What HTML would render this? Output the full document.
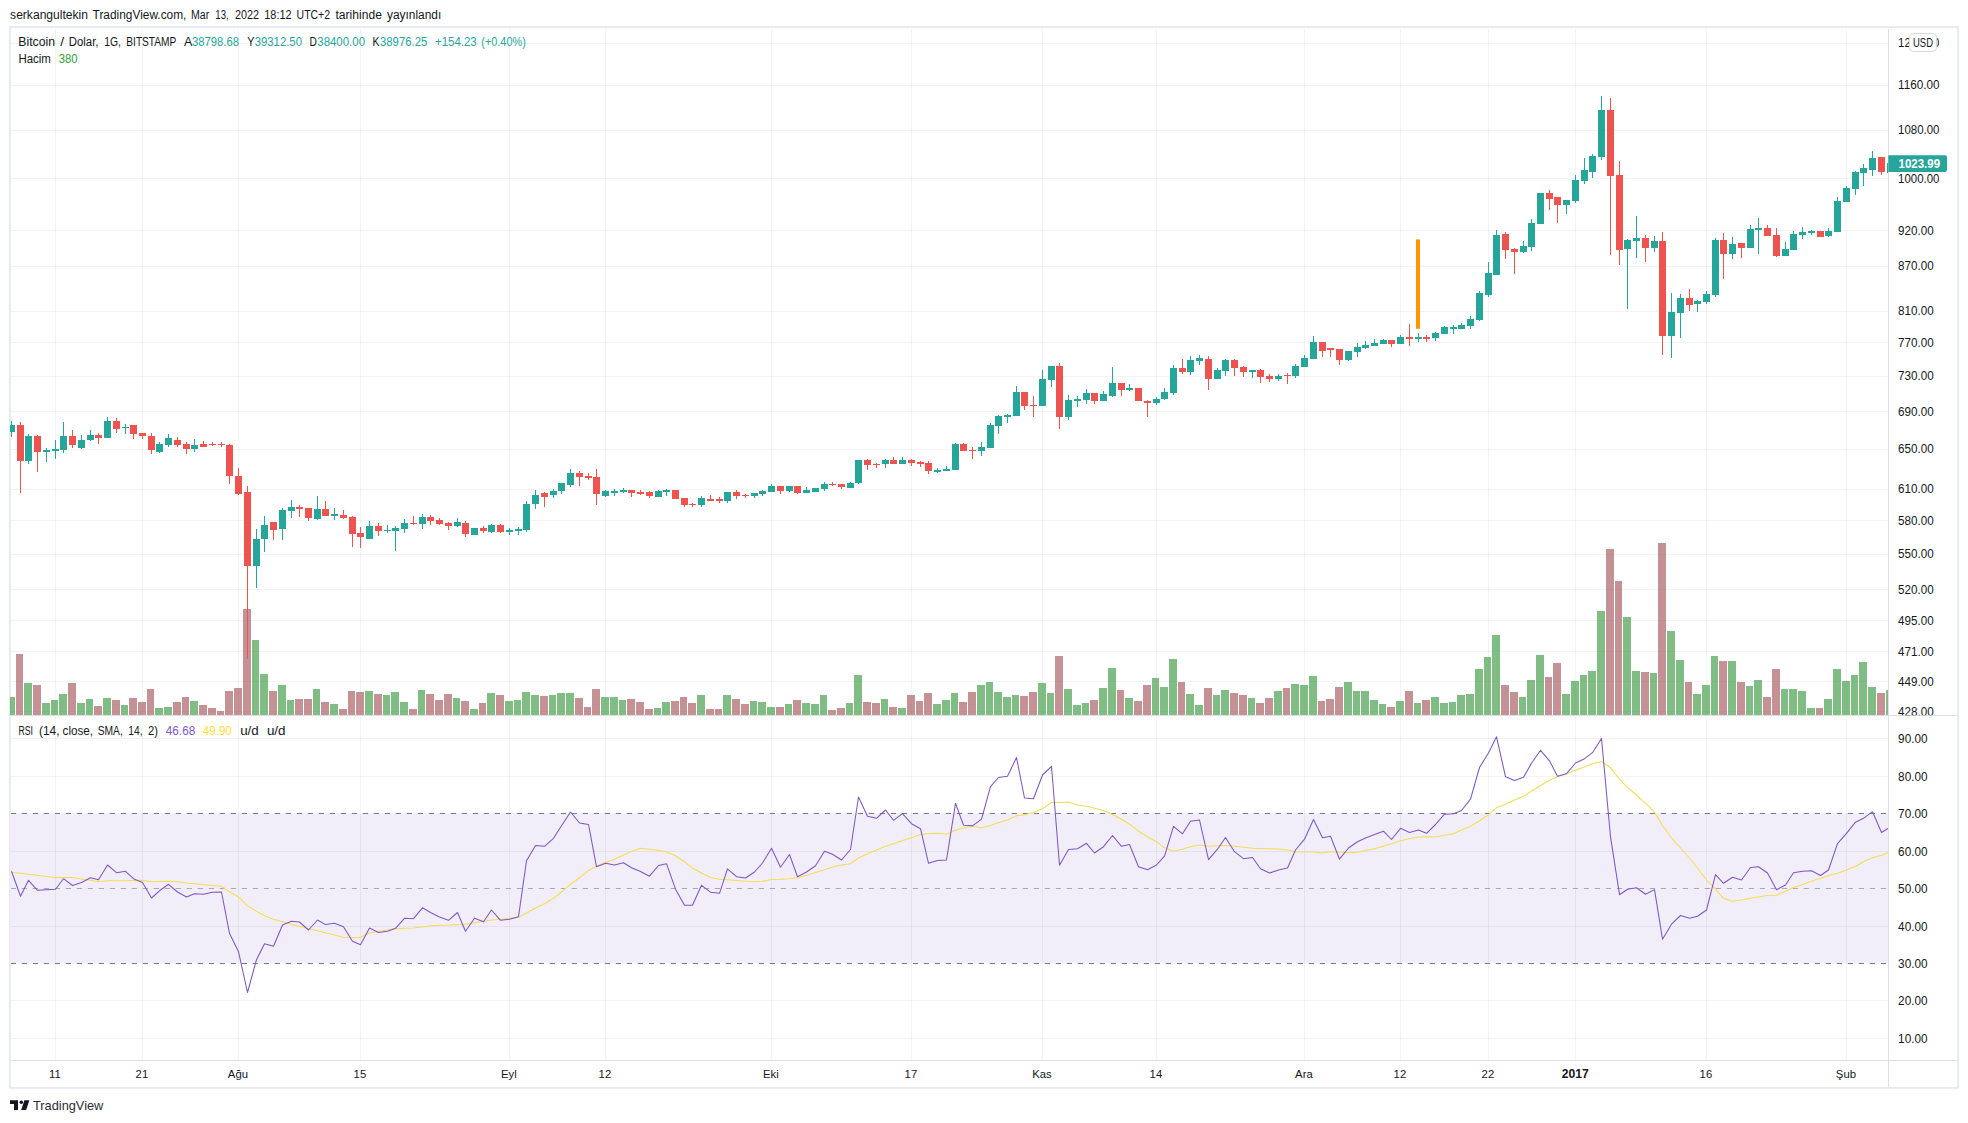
<!DOCTYPE html>
<html lang="tr"><head><meta charset="utf-8"><title>BTCUSD</title><style>html,body{margin:0;padding:0;background:#fff}body{width:1968px;height:1123px;overflow:hidden}</style></head><body>
<svg width="1968" height="1123" viewBox="0 0 1968 1123" style="display:block" font-family='"Liberation Sans", Arial, sans-serif'>
<rect width="1968" height="1123" fill="#fff"/>
<defs><clipPath id="cm"><rect x="10" y="28.5" width="1878" height="686.5"/></clipPath><clipPath id="cr"><rect x="10.3" y="716" width="1878" height="344"/></clipPath><clipPath id="cax"><rect x="1889" y="28.5" width="68" height="686.8"/></clipPath></defs>
<rect x="10" y="27.1" width="1948" height="1060.8" fill="none" stroke="#e4e7f0" stroke-width="1.7"/>
<rect x="10.3" y="813.3" width="1878" height="150" fill="#f1eef9"/>
<g stroke="#2a2e39" stroke-opacity="0.06" stroke-width="1" shape-rendering="crispEdges">
<path d="M11 43.5H1888"/>
<path d="M11 85.5H1888"/>
<path d="M11 130.5H1888"/>
<path d="M11 178.5H1888"/>
<path d="M11 230.5H1888"/>
<path d="M11 266.5H1888"/>
<path d="M11 311.5H1888"/>
<path d="M11 342.5H1888"/>
<path d="M11 376.5H1888"/>
<path d="M11 411.5H1888"/>
<path d="M11 449.5H1888"/>
<path d="M11 489.5H1888"/>
<path d="M11 520.5H1888"/>
<path d="M11 554.5H1888"/>
<path d="M11 589.5H1888"/>
<path d="M11 620.5H1888"/>
<path d="M11 651.5H1888"/>
<path d="M11 681.5H1888"/>
<path d="M11 711.5H1888"/>
<path d="M11 738.5H1888"/>
<path d="M11 776.5H1888"/>
<path d="M11 851.5H1888"/>
<path d="M11 926.5H1888"/>
<path d="M11 1000.5H1888"/>
<path d="M11 1038.5H1888"/>
<path d="M55.5 28.5V1060"/>
<path d="M142.5 28.5V1060"/>
<path d="M238.5 28.5V1060"/>
<path d="M360.5 28.5V1060"/>
<path d="M509.5 28.5V1060"/>
<path d="M605.5 28.5V1060"/>
<path d="M771.5 28.5V1060"/>
<path d="M911.5 28.5V1060"/>
<path d="M1042.5 28.5V1060"/>
<path d="M1156.5 28.5V1060"/>
<path d="M1304.5 28.5V1060"/>
<path d="M1400.5 28.5V1060"/>
<path d="M1488.5 28.5V1060"/>
<path d="M1575.5 28.5V1060"/>
<path d="M1706.5 28.5V1060"/>
<path d="M1846.5 28.5V1060"/>
</g>
<g clip-path="url(#cm)" shape-rendering="crispEdges">
<rect x="7" y="697" width="8" height="18" fill="rgba(58,154,66,0.65)"/>
<rect x="16" y="654" width="7" height="61" fill="rgba(164,87,90,0.65)"/>
<rect x="24" y="683" width="8" height="32" fill="rgba(58,154,66,0.65)"/>
<rect x="33" y="685" width="8" height="30" fill="rgba(164,87,90,0.65)"/>
<rect x="42" y="703" width="8" height="12" fill="rgba(58,154,66,0.65)"/>
<rect x="51" y="700" width="7" height="15" fill="rgba(58,154,66,0.65)"/>
<rect x="59" y="694" width="8" height="21" fill="rgba(58,154,66,0.65)"/>
<rect x="68" y="683" width="8" height="32" fill="rgba(164,87,90,0.65)"/>
<rect x="77" y="703" width="8" height="12" fill="rgba(58,154,66,0.65)"/>
<rect x="86" y="699" width="7" height="16" fill="rgba(58,154,66,0.65)"/>
<rect x="94" y="706" width="8" height="9" fill="rgba(164,87,90,0.65)"/>
<rect x="103" y="698" width="8" height="17" fill="rgba(58,154,66,0.65)"/>
<rect x="112" y="700" width="8" height="15" fill="rgba(164,87,90,0.65)"/>
<rect x="121" y="705" width="7" height="10" fill="rgba(58,154,66,0.65)"/>
<rect x="129" y="698" width="8" height="17" fill="rgba(164,87,90,0.65)"/>
<rect x="138" y="702" width="8" height="13" fill="rgba(164,87,90,0.65)"/>
<rect x="147" y="689" width="7" height="26" fill="rgba(164,87,90,0.65)"/>
<rect x="155" y="708" width="8" height="7" fill="rgba(58,154,66,0.65)"/>
<rect x="164" y="707" width="8" height="8" fill="rgba(58,154,66,0.65)"/>
<rect x="173" y="702" width="8" height="13" fill="rgba(164,87,90,0.65)"/>
<rect x="182" y="697" width="7" height="18" fill="rgba(164,87,90,0.65)"/>
<rect x="190" y="701" width="8" height="14" fill="rgba(58,154,66,0.65)"/>
<rect x="199" y="705" width="8" height="10" fill="rgba(164,87,90,0.65)"/>
<rect x="208" y="708" width="8" height="7" fill="rgba(164,87,90,0.65)"/>
<rect x="217" y="711" width="7" height="4" fill="rgba(164,87,90,0.65)"/>
<rect x="225" y="691" width="8" height="24" fill="rgba(164,87,90,0.65)"/>
<rect x="234" y="688" width="8" height="27" fill="rgba(164,87,90,0.65)"/>
<rect x="243" y="609" width="8" height="106" fill="rgba(164,87,90,0.65)"/>
<rect x="252" y="640" width="7" height="75" fill="rgba(58,154,66,0.65)"/>
<rect x="260" y="674" width="8" height="41" fill="rgba(58,154,66,0.65)"/>
<rect x="269" y="691" width="8" height="24" fill="rgba(164,87,90,0.65)"/>
<rect x="278" y="685" width="8" height="30" fill="rgba(58,154,66,0.65)"/>
<rect x="287" y="700" width="7" height="15" fill="rgba(58,154,66,0.65)"/>
<rect x="295" y="699" width="8" height="16" fill="rgba(164,87,90,0.65)"/>
<rect x="304" y="699" width="8" height="16" fill="rgba(164,87,90,0.65)"/>
<rect x="313" y="689" width="7" height="26" fill="rgba(58,154,66,0.65)"/>
<rect x="321" y="702" width="8" height="13" fill="rgba(164,87,90,0.65)"/>
<rect x="330" y="704" width="8" height="11" fill="rgba(58,154,66,0.65)"/>
<rect x="339" y="709" width="8" height="6" fill="rgba(164,87,90,0.65)"/>
<rect x="348" y="691" width="7" height="24" fill="rgba(164,87,90,0.65)"/>
<rect x="356" y="692" width="8" height="23" fill="rgba(164,87,90,0.65)"/>
<rect x="365" y="691" width="8" height="24" fill="rgba(58,154,66,0.65)"/>
<rect x="374" y="694" width="8" height="21" fill="rgba(164,87,90,0.65)"/>
<rect x="383" y="695" width="7" height="20" fill="rgba(58,154,66,0.65)"/>
<rect x="391" y="692" width="8" height="23" fill="rgba(58,154,66,0.65)"/>
<rect x="400" y="702" width="8" height="13" fill="rgba(58,154,66,0.65)"/>
<rect x="409" y="709" width="8" height="6" fill="rgba(164,87,90,0.65)"/>
<rect x="418" y="690" width="7" height="25" fill="rgba(58,154,66,0.65)"/>
<rect x="426" y="694" width="8" height="21" fill="rgba(164,87,90,0.65)"/>
<rect x="435" y="700" width="8" height="15" fill="rgba(164,87,90,0.65)"/>
<rect x="444" y="694" width="8" height="21" fill="rgba(164,87,90,0.65)"/>
<rect x="453" y="698" width="7" height="17" fill="rgba(58,154,66,0.65)"/>
<rect x="461" y="701" width="8" height="14" fill="rgba(164,87,90,0.65)"/>
<rect x="470" y="709" width="8" height="6" fill="rgba(58,154,66,0.65)"/>
<rect x="479" y="703" width="7" height="12" fill="rgba(164,87,90,0.65)"/>
<rect x="487" y="693" width="8" height="22" fill="rgba(58,154,66,0.65)"/>
<rect x="496" y="695" width="8" height="20" fill="rgba(164,87,90,0.65)"/>
<rect x="505" y="701" width="8" height="14" fill="rgba(58,154,66,0.65)"/>
<rect x="514" y="700" width="7" height="15" fill="rgba(58,154,66,0.65)"/>
<rect x="522" y="692" width="8" height="23" fill="rgba(58,154,66,0.65)"/>
<rect x="531" y="695" width="8" height="20" fill="rgba(58,154,66,0.65)"/>
<rect x="540" y="696" width="8" height="19" fill="rgba(164,87,90,0.65)"/>
<rect x="549" y="695" width="7" height="20" fill="rgba(58,154,66,0.65)"/>
<rect x="557" y="693" width="8" height="22" fill="rgba(58,154,66,0.65)"/>
<rect x="566" y="693" width="8" height="22" fill="rgba(58,154,66,0.65)"/>
<rect x="575" y="698" width="8" height="17" fill="rgba(164,87,90,0.65)"/>
<rect x="584" y="707" width="7" height="8" fill="rgba(164,87,90,0.65)"/>
<rect x="592" y="689" width="8" height="26" fill="rgba(164,87,90,0.65)"/>
<rect x="601" y="697" width="8" height="18" fill="rgba(58,154,66,0.65)"/>
<rect x="610" y="697" width="8" height="18" fill="rgba(58,154,66,0.65)"/>
<rect x="619" y="700" width="7" height="15" fill="rgba(58,154,66,0.65)"/>
<rect x="627" y="699" width="8" height="16" fill="rgba(164,87,90,0.65)"/>
<rect x="636" y="702" width="8" height="13" fill="rgba(164,87,90,0.65)"/>
<rect x="645" y="709" width="8" height="6" fill="rgba(164,87,90,0.65)"/>
<rect x="654" y="708" width="7" height="7" fill="rgba(58,154,66,0.65)"/>
<rect x="662" y="702" width="8" height="13" fill="rgba(58,154,66,0.65)"/>
<rect x="671" y="701" width="8" height="14" fill="rgba(164,87,90,0.65)"/>
<rect x="680" y="697" width="7" height="18" fill="rgba(164,87,90,0.65)"/>
<rect x="688" y="703" width="8" height="12" fill="rgba(164,87,90,0.65)"/>
<rect x="697" y="695" width="8" height="20" fill="rgba(58,154,66,0.65)"/>
<rect x="706" y="709" width="8" height="6" fill="rgba(164,87,90,0.65)"/>
<rect x="715" y="709" width="7" height="6" fill="rgba(164,87,90,0.65)"/>
<rect x="723" y="695" width="8" height="20" fill="rgba(58,154,66,0.65)"/>
<rect x="732" y="699" width="8" height="16" fill="rgba(164,87,90,0.65)"/>
<rect x="741" y="704" width="8" height="11" fill="rgba(164,87,90,0.65)"/>
<rect x="750" y="701" width="7" height="14" fill="rgba(58,154,66,0.65)"/>
<rect x="758" y="702" width="8" height="13" fill="rgba(58,154,66,0.65)"/>
<rect x="767" y="707" width="8" height="8" fill="rgba(58,154,66,0.65)"/>
<rect x="776" y="707" width="8" height="8" fill="rgba(164,87,90,0.65)"/>
<rect x="785" y="704" width="7" height="11" fill="rgba(58,154,66,0.65)"/>
<rect x="793" y="700" width="8" height="15" fill="rgba(164,87,90,0.65)"/>
<rect x="802" y="703" width="8" height="12" fill="rgba(58,154,66,0.65)"/>
<rect x="811" y="704" width="8" height="11" fill="rgba(58,154,66,0.65)"/>
<rect x="820" y="695" width="7" height="20" fill="rgba(58,154,66,0.65)"/>
<rect x="828" y="710" width="8" height="5" fill="rgba(164,87,90,0.65)"/>
<rect x="837" y="708" width="8" height="7" fill="rgba(164,87,90,0.65)"/>
<rect x="846" y="703" width="7" height="12" fill="rgba(58,154,66,0.65)"/>
<rect x="854" y="675" width="8" height="40" fill="rgba(58,154,66,0.65)"/>
<rect x="863" y="702" width="8" height="13" fill="rgba(164,87,90,0.65)"/>
<rect x="872" y="703" width="8" height="12" fill="rgba(164,87,90,0.65)"/>
<rect x="881" y="699" width="7" height="16" fill="rgba(58,154,66,0.65)"/>
<rect x="889" y="707" width="8" height="8" fill="rgba(164,87,90,0.65)"/>
<rect x="898" y="708" width="8" height="7" fill="rgba(58,154,66,0.65)"/>
<rect x="907" y="695" width="8" height="20" fill="rgba(164,87,90,0.65)"/>
<rect x="916" y="701" width="7" height="14" fill="rgba(164,87,90,0.65)"/>
<rect x="924" y="693" width="8" height="22" fill="rgba(164,87,90,0.65)"/>
<rect x="933" y="704" width="8" height="11" fill="rgba(58,154,66,0.65)"/>
<rect x="942" y="700" width="8" height="15" fill="rgba(58,154,66,0.65)"/>
<rect x="951" y="693" width="7" height="22" fill="rgba(58,154,66,0.65)"/>
<rect x="959" y="702" width="8" height="13" fill="rgba(164,87,90,0.65)"/>
<rect x="968" y="692" width="8" height="23" fill="rgba(164,87,90,0.65)"/>
<rect x="977" y="685" width="8" height="30" fill="rgba(58,154,66,0.65)"/>
<rect x="986" y="682" width="7" height="33" fill="rgba(58,154,66,0.65)"/>
<rect x="994" y="692" width="8" height="23" fill="rgba(58,154,66,0.65)"/>
<rect x="1003" y="697" width="8" height="18" fill="rgba(58,154,66,0.65)"/>
<rect x="1012" y="695" width="7" height="20" fill="rgba(58,154,66,0.65)"/>
<rect x="1020" y="696" width="8" height="19" fill="rgba(164,87,90,0.65)"/>
<rect x="1029" y="692" width="8" height="23" fill="rgba(164,87,90,0.65)"/>
<rect x="1038" y="683" width="8" height="32" fill="rgba(58,154,66,0.65)"/>
<rect x="1047" y="693" width="7" height="22" fill="rgba(58,154,66,0.65)"/>
<rect x="1055" y="656" width="8" height="59" fill="rgba(164,87,90,0.65)"/>
<rect x="1064" y="689" width="8" height="26" fill="rgba(58,154,66,0.65)"/>
<rect x="1073" y="705" width="8" height="10" fill="rgba(58,154,66,0.65)"/>
<rect x="1082" y="703" width="7" height="12" fill="rgba(58,154,66,0.65)"/>
<rect x="1090" y="700" width="8" height="15" fill="rgba(164,87,90,0.65)"/>
<rect x="1099" y="688" width="8" height="27" fill="rgba(58,154,66,0.65)"/>
<rect x="1108" y="668" width="8" height="47" fill="rgba(58,154,66,0.65)"/>
<rect x="1117" y="690" width="7" height="25" fill="rgba(164,87,90,0.65)"/>
<rect x="1125" y="698" width="8" height="17" fill="rgba(58,154,66,0.65)"/>
<rect x="1134" y="701" width="8" height="14" fill="rgba(164,87,90,0.65)"/>
<rect x="1143" y="685" width="8" height="30" fill="rgba(164,87,90,0.65)"/>
<rect x="1152" y="678" width="7" height="37" fill="rgba(58,154,66,0.65)"/>
<rect x="1160" y="687" width="8" height="28" fill="rgba(58,154,66,0.65)"/>
<rect x="1169" y="659" width="8" height="56" fill="rgba(58,154,66,0.65)"/>
<rect x="1178" y="682" width="7" height="33" fill="rgba(164,87,90,0.65)"/>
<rect x="1186" y="694" width="8" height="21" fill="rgba(58,154,66,0.65)"/>
<rect x="1195" y="705" width="8" height="10" fill="rgba(58,154,66,0.65)"/>
<rect x="1204" y="688" width="8" height="27" fill="rgba(164,87,90,0.65)"/>
<rect x="1213" y="695" width="7" height="20" fill="rgba(58,154,66,0.65)"/>
<rect x="1221" y="690" width="8" height="25" fill="rgba(58,154,66,0.65)"/>
<rect x="1230" y="693" width="8" height="22" fill="rgba(164,87,90,0.65)"/>
<rect x="1239" y="695" width="8" height="20" fill="rgba(164,87,90,0.65)"/>
<rect x="1248" y="698" width="7" height="17" fill="rgba(58,154,66,0.65)"/>
<rect x="1256" y="703" width="8" height="12" fill="rgba(164,87,90,0.65)"/>
<rect x="1265" y="698" width="8" height="17" fill="rgba(164,87,90,0.65)"/>
<rect x="1274" y="691" width="8" height="24" fill="rgba(58,154,66,0.65)"/>
<rect x="1283" y="688" width="7" height="27" fill="rgba(164,87,90,0.65)"/>
<rect x="1291" y="684" width="8" height="31" fill="rgba(58,154,66,0.65)"/>
<rect x="1300" y="685" width="8" height="30" fill="rgba(58,154,66,0.65)"/>
<rect x="1309" y="676" width="8" height="39" fill="rgba(58,154,66,0.65)"/>
<rect x="1318" y="701" width="7" height="14" fill="rgba(164,87,90,0.65)"/>
<rect x="1326" y="699" width="8" height="16" fill="rgba(164,87,90,0.65)"/>
<rect x="1335" y="687" width="8" height="28" fill="rgba(164,87,90,0.65)"/>
<rect x="1344" y="682" width="8" height="33" fill="rgba(58,154,66,0.65)"/>
<rect x="1353" y="691" width="7" height="24" fill="rgba(58,154,66,0.65)"/>
<rect x="1361" y="691" width="8" height="24" fill="rgba(58,154,66,0.65)"/>
<rect x="1370" y="700" width="8" height="15" fill="rgba(58,154,66,0.65)"/>
<rect x="1379" y="704" width="7" height="11" fill="rgba(58,154,66,0.65)"/>
<rect x="1387" y="707" width="8" height="8" fill="rgba(164,87,90,0.65)"/>
<rect x="1396" y="701" width="8" height="14" fill="rgba(58,154,66,0.65)"/>
<rect x="1405" y="691" width="8" height="24" fill="rgba(164,87,90,0.65)"/>
<rect x="1414" y="703" width="7" height="12" fill="rgba(58,154,66,0.65)"/>
<rect x="1422" y="700" width="8" height="15" fill="rgba(164,87,90,0.65)"/>
<rect x="1431" y="697" width="8" height="18" fill="rgba(58,154,66,0.65)"/>
<rect x="1440" y="703" width="8" height="12" fill="rgba(58,154,66,0.65)"/>
<rect x="1449" y="702" width="7" height="13" fill="rgba(58,154,66,0.65)"/>
<rect x="1457" y="695" width="8" height="20" fill="rgba(58,154,66,0.65)"/>
<rect x="1466" y="694" width="8" height="21" fill="rgba(58,154,66,0.65)"/>
<rect x="1475" y="669" width="8" height="46" fill="rgba(58,154,66,0.65)"/>
<rect x="1484" y="657" width="7" height="58" fill="rgba(58,154,66,0.65)"/>
<rect x="1492" y="635" width="8" height="80" fill="rgba(58,154,66,0.65)"/>
<rect x="1501" y="685" width="8" height="30" fill="rgba(164,87,90,0.65)"/>
<rect x="1510" y="692" width="8" height="23" fill="rgba(164,87,90,0.65)"/>
<rect x="1519" y="697" width="7" height="18" fill="rgba(58,154,66,0.65)"/>
<rect x="1527" y="680" width="8" height="35" fill="rgba(58,154,66,0.65)"/>
<rect x="1536" y="655" width="8" height="60" fill="rgba(58,154,66,0.65)"/>
<rect x="1545" y="677" width="7" height="38" fill="rgba(164,87,90,0.65)"/>
<rect x="1553" y="663" width="8" height="52" fill="rgba(164,87,90,0.65)"/>
<rect x="1562" y="694" width="8" height="21" fill="rgba(58,154,66,0.65)"/>
<rect x="1571" y="681" width="8" height="34" fill="rgba(58,154,66,0.65)"/>
<rect x="1580" y="675" width="7" height="40" fill="rgba(58,154,66,0.65)"/>
<rect x="1588" y="671" width="8" height="44" fill="rgba(58,154,66,0.65)"/>
<rect x="1597" y="611" width="8" height="104" fill="rgba(58,154,66,0.65)"/>
<rect x="1606" y="549" width="8" height="166" fill="rgba(164,87,90,0.65)"/>
<rect x="1615" y="581" width="7" height="134" fill="rgba(164,87,90,0.65)"/>
<rect x="1623" y="617" width="8" height="98" fill="rgba(58,154,66,0.65)"/>
<rect x="1632" y="671" width="8" height="44" fill="rgba(58,154,66,0.65)"/>
<rect x="1641" y="672" width="8" height="43" fill="rgba(164,87,90,0.65)"/>
<rect x="1650" y="673" width="7" height="42" fill="rgba(58,154,66,0.65)"/>
<rect x="1658" y="543" width="8" height="172" fill="rgba(164,87,90,0.65)"/>
<rect x="1667" y="631" width="8" height="84" fill="rgba(58,154,66,0.65)"/>
<rect x="1676" y="660" width="8" height="55" fill="rgba(58,154,66,0.65)"/>
<rect x="1685" y="682" width="7" height="33" fill="rgba(164,87,90,0.65)"/>
<rect x="1693" y="694" width="8" height="21" fill="rgba(58,154,66,0.65)"/>
<rect x="1702" y="685" width="8" height="30" fill="rgba(58,154,66,0.65)"/>
<rect x="1711" y="656" width="7" height="59" fill="rgba(58,154,66,0.65)"/>
<rect x="1719" y="661" width="8" height="54" fill="rgba(164,87,90,0.65)"/>
<rect x="1728" y="661" width="8" height="54" fill="rgba(58,154,66,0.65)"/>
<rect x="1737" y="682" width="8" height="33" fill="rgba(164,87,90,0.65)"/>
<rect x="1746" y="686" width="7" height="29" fill="rgba(58,154,66,0.65)"/>
<rect x="1754" y="680" width="8" height="35" fill="rgba(58,154,66,0.65)"/>
<rect x="1763" y="697" width="8" height="18" fill="rgba(164,87,90,0.65)"/>
<rect x="1772" y="669" width="8" height="46" fill="rgba(164,87,90,0.65)"/>
<rect x="1781" y="689" width="7" height="26" fill="rgba(58,154,66,0.65)"/>
<rect x="1789" y="689" width="8" height="26" fill="rgba(58,154,66,0.65)"/>
<rect x="1798" y="691" width="8" height="24" fill="rgba(58,154,66,0.65)"/>
<rect x="1807" y="708" width="8" height="7" fill="rgba(58,154,66,0.65)"/>
<rect x="1816" y="708" width="7" height="7" fill="rgba(164,87,90,0.65)"/>
<rect x="1824" y="699" width="8" height="16" fill="rgba(58,154,66,0.65)"/>
<rect x="1833" y="669" width="8" height="46" fill="rgba(58,154,66,0.65)"/>
<rect x="1842" y="681" width="8" height="34" fill="rgba(58,154,66,0.65)"/>
<rect x="1851" y="675" width="7" height="40" fill="rgba(58,154,66,0.65)"/>
<rect x="1859" y="662" width="8" height="53" fill="rgba(58,154,66,0.65)"/>
<rect x="1868" y="687" width="8" height="28" fill="rgba(58,154,66,0.65)"/>
<rect x="1877" y="693" width="8" height="22" fill="rgba(164,87,90,0.65)"/>
<rect x="1886" y="690" width="8" height="25" fill="rgba(58,154,66,0.65)"/>
</g>
<rect x="1416" y="239.4" width="4" height="89.4" fill="#ff9800"/>
<g clip-path="url(#cm)" shape-rendering="crispEdges">
<rect x="11" y="421" width="1" height="16" fill="#26a69a"/>
<rect x="8" y="425" width="7" height="7" fill="#26a69a"/>
<rect x="20" y="422" width="1" height="71" fill="#ef5350"/>
<rect x="17" y="425" width="7" height="36" fill="#ef5350"/>
<rect x="28" y="434" width="1" height="30" fill="#26a69a"/>
<rect x="25" y="436" width="7" height="25" fill="#26a69a"/>
<rect x="37" y="435" width="1" height="37" fill="#ef5350"/>
<rect x="34" y="436" width="7" height="16" fill="#ef5350"/>
<rect x="46" y="448" width="1" height="14" fill="#26a69a"/>
<rect x="43" y="450" width="7" height="2" fill="#26a69a"/>
<rect x="55" y="440" width="1" height="19" fill="#26a69a"/>
<rect x="52" y="449" width="7" height="2" fill="#26a69a"/>
<rect x="63" y="422" width="1" height="31" fill="#26a69a"/>
<rect x="60" y="436" width="7" height="14" fill="#26a69a"/>
<rect x="72" y="430" width="1" height="18" fill="#ef5350"/>
<rect x="69" y="436" width="7" height="9" fill="#ef5350"/>
<rect x="81" y="435" width="1" height="14" fill="#26a69a"/>
<rect x="78" y="440" width="7" height="8" fill="#26a69a"/>
<rect x="90" y="430" width="1" height="11" fill="#26a69a"/>
<rect x="87" y="435" width="7" height="5" fill="#26a69a"/>
<rect x="98" y="433" width="1" height="11" fill="#ef5350"/>
<rect x="95" y="435" width="7" height="3" fill="#ef5350"/>
<rect x="107" y="417" width="1" height="21" fill="#26a69a"/>
<rect x="104" y="421" width="7" height="17" fill="#26a69a"/>
<rect x="116" y="418" width="1" height="15" fill="#ef5350"/>
<rect x="113" y="421" width="7" height="8" fill="#ef5350"/>
<rect x="125" y="424" width="1" height="10" fill="#26a69a"/>
<rect x="122" y="427" width="7" height="1" fill="#26a69a"/>
<rect x="133" y="425" width="1" height="14" fill="#ef5350"/>
<rect x="130" y="425" width="7" height="9" fill="#ef5350"/>
<rect x="142" y="433" width="1" height="6" fill="#ef5350"/>
<rect x="139" y="433" width="7" height="3" fill="#ef5350"/>
<rect x="151" y="433" width="1" height="21" fill="#ef5350"/>
<rect x="148" y="436" width="7" height="14" fill="#ef5350"/>
<rect x="159" y="442" width="1" height="11" fill="#26a69a"/>
<rect x="156" y="444" width="7" height="8" fill="#26a69a"/>
<rect x="168" y="434" width="1" height="13" fill="#26a69a"/>
<rect x="165" y="438" width="7" height="7" fill="#26a69a"/>
<rect x="177" y="437" width="1" height="10" fill="#ef5350"/>
<rect x="174" y="440" width="7" height="5" fill="#ef5350"/>
<rect x="186" y="442" width="1" height="12" fill="#ef5350"/>
<rect x="183" y="444" width="7" height="5" fill="#ef5350"/>
<rect x="194" y="439" width="1" height="13" fill="#26a69a"/>
<rect x="191" y="445" width="7" height="4" fill="#26a69a"/>
<rect x="203" y="441" width="1" height="6" fill="#ef5350"/>
<rect x="200" y="444" width="7" height="3" fill="#ef5350"/>
<rect x="212" y="442" width="1" height="4" fill="#ef5350"/>
<rect x="209" y="444" width="7" height="1" fill="#ef5350"/>
<rect x="221" y="442" width="1" height="5" fill="#ef5350"/>
<rect x="218" y="444" width="7" height="1" fill="#ef5350"/>
<rect x="229" y="444" width="1" height="40" fill="#ef5350"/>
<rect x="226" y="445" width="7" height="31" fill="#ef5350"/>
<rect x="238" y="468" width="1" height="27" fill="#ef5350"/>
<rect x="235" y="476" width="7" height="18" fill="#ef5350"/>
<rect x="247" y="486" width="1" height="173" fill="#ef5350"/>
<rect x="244" y="492" width="7" height="74" fill="#ef5350"/>
<rect x="256" y="529" width="1" height="59" fill="#26a69a"/>
<rect x="253" y="539" width="7" height="27" fill="#26a69a"/>
<rect x="264" y="516" width="1" height="36" fill="#26a69a"/>
<rect x="261" y="525" width="7" height="14" fill="#26a69a"/>
<rect x="273" y="522" width="1" height="18" fill="#ef5350"/>
<rect x="270" y="522" width="7" height="8" fill="#ef5350"/>
<rect x="282" y="508" width="1" height="32" fill="#26a69a"/>
<rect x="279" y="510" width="7" height="19" fill="#26a69a"/>
<rect x="291" y="500" width="1" height="18" fill="#26a69a"/>
<rect x="288" y="507" width="7" height="4" fill="#26a69a"/>
<rect x="299" y="505" width="1" height="12" fill="#ef5350"/>
<rect x="296" y="507" width="7" height="2" fill="#ef5350"/>
<rect x="308" y="508" width="1" height="13" fill="#ef5350"/>
<rect x="305" y="508" width="7" height="10" fill="#ef5350"/>
<rect x="317" y="496" width="1" height="24" fill="#26a69a"/>
<rect x="314" y="509" width="7" height="10" fill="#26a69a"/>
<rect x="325" y="501" width="1" height="15" fill="#ef5350"/>
<rect x="322" y="509" width="7" height="7" fill="#ef5350"/>
<rect x="334" y="508" width="1" height="12" fill="#26a69a"/>
<rect x="331" y="514" width="7" height="2" fill="#26a69a"/>
<rect x="343" y="510" width="1" height="9" fill="#ef5350"/>
<rect x="340" y="515" width="7" height="3" fill="#ef5350"/>
<rect x="352" y="516" width="1" height="31" fill="#ef5350"/>
<rect x="349" y="517" width="7" height="17" fill="#ef5350"/>
<rect x="360" y="527" width="1" height="21" fill="#ef5350"/>
<rect x="357" y="533" width="7" height="4" fill="#ef5350"/>
<rect x="369" y="521" width="1" height="18" fill="#26a69a"/>
<rect x="366" y="526" width="7" height="13" fill="#26a69a"/>
<rect x="378" y="523" width="1" height="13" fill="#ef5350"/>
<rect x="375" y="526" width="7" height="5" fill="#ef5350"/>
<rect x="387" y="525" width="1" height="8" fill="#26a69a"/>
<rect x="384" y="530" width="7" height="1" fill="#26a69a"/>
<rect x="395" y="526" width="1" height="25" fill="#26a69a"/>
<rect x="392" y="528" width="7" height="3" fill="#26a69a"/>
<rect x="404" y="519" width="1" height="14" fill="#26a69a"/>
<rect x="401" y="523" width="7" height="6" fill="#26a69a"/>
<rect x="413" y="516" width="1" height="9" fill="#ef5350"/>
<rect x="410" y="523" width="7" height="1" fill="#ef5350"/>
<rect x="422" y="514" width="1" height="15" fill="#26a69a"/>
<rect x="419" y="517" width="7" height="7" fill="#26a69a"/>
<rect x="430" y="515" width="1" height="10" fill="#ef5350"/>
<rect x="427" y="517" width="7" height="4" fill="#ef5350"/>
<rect x="439" y="518" width="1" height="7" fill="#ef5350"/>
<rect x="436" y="520" width="7" height="4" fill="#ef5350"/>
<rect x="448" y="522" width="1" height="8" fill="#ef5350"/>
<rect x="445" y="523" width="7" height="3" fill="#ef5350"/>
<rect x="457" y="518" width="1" height="9" fill="#26a69a"/>
<rect x="454" y="522" width="7" height="4" fill="#26a69a"/>
<rect x="465" y="521" width="1" height="16" fill="#ef5350"/>
<rect x="462" y="523" width="7" height="11" fill="#ef5350"/>
<rect x="474" y="528" width="1" height="7" fill="#26a69a"/>
<rect x="471" y="528" width="7" height="7" fill="#26a69a"/>
<rect x="483" y="526" width="1" height="7" fill="#ef5350"/>
<rect x="480" y="528" width="7" height="3" fill="#ef5350"/>
<rect x="491" y="524" width="1" height="9" fill="#26a69a"/>
<rect x="488" y="525" width="7" height="7" fill="#26a69a"/>
<rect x="500" y="524" width="1" height="9" fill="#ef5350"/>
<rect x="497" y="525" width="7" height="7" fill="#ef5350"/>
<rect x="509" y="528" width="1" height="7" fill="#26a69a"/>
<rect x="506" y="530" width="7" height="2" fill="#26a69a"/>
<rect x="518" y="527" width="1" height="8" fill="#26a69a"/>
<rect x="515" y="529" width="7" height="2" fill="#26a69a"/>
<rect x="526" y="501" width="1" height="31" fill="#26a69a"/>
<rect x="523" y="504" width="7" height="26" fill="#26a69a"/>
<rect x="535" y="490" width="1" height="19" fill="#26a69a"/>
<rect x="532" y="495" width="7" height="9" fill="#26a69a"/>
<rect x="544" y="492" width="1" height="15" fill="#ef5350"/>
<rect x="541" y="493" width="7" height="4" fill="#ef5350"/>
<rect x="553" y="489" width="1" height="9" fill="#26a69a"/>
<rect x="550" y="491" width="7" height="4" fill="#26a69a"/>
<rect x="561" y="483" width="1" height="11" fill="#26a69a"/>
<rect x="558" y="483" width="7" height="8" fill="#26a69a"/>
<rect x="570" y="469" width="1" height="18" fill="#26a69a"/>
<rect x="567" y="473" width="7" height="12" fill="#26a69a"/>
<rect x="579" y="471" width="1" height="15" fill="#ef5350"/>
<rect x="576" y="473" width="7" height="4" fill="#ef5350"/>
<rect x="588" y="473" width="1" height="7" fill="#ef5350"/>
<rect x="585" y="476" width="7" height="2" fill="#ef5350"/>
<rect x="596" y="469" width="1" height="36" fill="#ef5350"/>
<rect x="593" y="477" width="7" height="17" fill="#ef5350"/>
<rect x="605" y="490" width="1" height="7" fill="#26a69a"/>
<rect x="602" y="491" width="7" height="5" fill="#26a69a"/>
<rect x="614" y="489" width="1" height="7" fill="#26a69a"/>
<rect x="611" y="491" width="7" height="2" fill="#26a69a"/>
<rect x="623" y="488" width="1" height="5" fill="#26a69a"/>
<rect x="620" y="490" width="7" height="2" fill="#26a69a"/>
<rect x="631" y="490" width="1" height="7" fill="#ef5350"/>
<rect x="628" y="490" width="7" height="3" fill="#ef5350"/>
<rect x="640" y="490" width="1" height="5" fill="#ef5350"/>
<rect x="637" y="492" width="7" height="2" fill="#ef5350"/>
<rect x="649" y="491" width="1" height="7" fill="#ef5350"/>
<rect x="646" y="492" width="7" height="4" fill="#ef5350"/>
<rect x="658" y="490" width="1" height="7" fill="#26a69a"/>
<rect x="655" y="491" width="7" height="6" fill="#26a69a"/>
<rect x="666" y="489" width="1" height="7" fill="#26a69a"/>
<rect x="663" y="490" width="7" height="2" fill="#26a69a"/>
<rect x="675" y="490" width="1" height="9" fill="#ef5350"/>
<rect x="672" y="490" width="7" height="9" fill="#ef5350"/>
<rect x="684" y="498" width="1" height="9" fill="#ef5350"/>
<rect x="681" y="498" width="7" height="7" fill="#ef5350"/>
<rect x="692" y="503" width="1" height="4" fill="#ef5350"/>
<rect x="689" y="504" width="7" height="1" fill="#ef5350"/>
<rect x="701" y="496" width="1" height="11" fill="#26a69a"/>
<rect x="698" y="498" width="7" height="7" fill="#26a69a"/>
<rect x="710" y="495" width="1" height="6" fill="#ef5350"/>
<rect x="707" y="499" width="7" height="2" fill="#ef5350"/>
<rect x="719" y="497" width="1" height="6" fill="#ef5350"/>
<rect x="716" y="499" width="7" height="2" fill="#ef5350"/>
<rect x="727" y="492" width="1" height="11" fill="#26a69a"/>
<rect x="724" y="492" width="7" height="9" fill="#26a69a"/>
<rect x="736" y="490" width="1" height="9" fill="#ef5350"/>
<rect x="733" y="492" width="7" height="4" fill="#ef5350"/>
<rect x="745" y="494" width="1" height="4" fill="#ef5350"/>
<rect x="742" y="495" width="7" height="1" fill="#ef5350"/>
<rect x="754" y="493" width="1" height="5" fill="#26a69a"/>
<rect x="751" y="493" width="7" height="3" fill="#26a69a"/>
<rect x="762" y="490" width="1" height="6" fill="#26a69a"/>
<rect x="759" y="491" width="7" height="3" fill="#26a69a"/>
<rect x="771" y="484" width="1" height="8" fill="#26a69a"/>
<rect x="768" y="486" width="7" height="6" fill="#26a69a"/>
<rect x="780" y="486" width="1" height="8" fill="#ef5350"/>
<rect x="777" y="486" width="7" height="5" fill="#ef5350"/>
<rect x="789" y="486" width="1" height="6" fill="#26a69a"/>
<rect x="786" y="486" width="7" height="5" fill="#26a69a"/>
<rect x="797" y="486" width="1" height="8" fill="#ef5350"/>
<rect x="794" y="486" width="7" height="7" fill="#ef5350"/>
<rect x="806" y="487" width="1" height="6" fill="#26a69a"/>
<rect x="803" y="490" width="7" height="3" fill="#26a69a"/>
<rect x="815" y="488" width="1" height="4" fill="#26a69a"/>
<rect x="812" y="488" width="7" height="4" fill="#26a69a"/>
<rect x="824" y="482" width="1" height="9" fill="#26a69a"/>
<rect x="821" y="484" width="7" height="5" fill="#26a69a"/>
<rect x="832" y="482" width="1" height="4" fill="#ef5350"/>
<rect x="829" y="484" width="7" height="1" fill="#ef5350"/>
<rect x="841" y="484" width="1" height="5" fill="#ef5350"/>
<rect x="838" y="484" width="7" height="3" fill="#ef5350"/>
<rect x="850" y="482" width="1" height="6" fill="#26a69a"/>
<rect x="847" y="483" width="7" height="5" fill="#26a69a"/>
<rect x="858" y="460" width="1" height="24" fill="#26a69a"/>
<rect x="855" y="460" width="7" height="23" fill="#26a69a"/>
<rect x="867" y="459" width="1" height="11" fill="#ef5350"/>
<rect x="864" y="460" width="7" height="5" fill="#ef5350"/>
<rect x="876" y="463" width="1" height="5" fill="#ef5350"/>
<rect x="873" y="464" width="7" height="1" fill="#ef5350"/>
<rect x="885" y="459" width="1" height="9" fill="#26a69a"/>
<rect x="882" y="460" width="7" height="4" fill="#26a69a"/>
<rect x="893" y="457" width="1" height="7" fill="#ef5350"/>
<rect x="890" y="460" width="7" height="4" fill="#ef5350"/>
<rect x="902" y="457" width="1" height="7" fill="#26a69a"/>
<rect x="899" y="460" width="7" height="4" fill="#26a69a"/>
<rect x="911" y="459" width="1" height="7" fill="#ef5350"/>
<rect x="908" y="460" width="7" height="3" fill="#ef5350"/>
<rect x="920" y="461" width="1" height="6" fill="#ef5350"/>
<rect x="917" y="462" width="7" height="2" fill="#ef5350"/>
<rect x="928" y="461" width="1" height="13" fill="#ef5350"/>
<rect x="925" y="463" width="7" height="8" fill="#ef5350"/>
<rect x="937" y="468" width="1" height="5" fill="#26a69a"/>
<rect x="934" y="470" width="7" height="2" fill="#26a69a"/>
<rect x="946" y="466" width="1" height="5" fill="#26a69a"/>
<rect x="943" y="469" width="7" height="2" fill="#26a69a"/>
<rect x="955" y="443" width="1" height="27" fill="#26a69a"/>
<rect x="952" y="444" width="7" height="26" fill="#26a69a"/>
<rect x="963" y="443" width="1" height="8" fill="#ef5350"/>
<rect x="960" y="444" width="7" height="7" fill="#ef5350"/>
<rect x="972" y="447" width="1" height="12" fill="#ef5350"/>
<rect x="969" y="450" width="7" height="1" fill="#ef5350"/>
<rect x="981" y="442" width="1" height="14" fill="#26a69a"/>
<rect x="978" y="447" width="7" height="4" fill="#26a69a"/>
<rect x="990" y="423" width="1" height="25" fill="#26a69a"/>
<rect x="987" y="425" width="7" height="23" fill="#26a69a"/>
<rect x="998" y="415" width="1" height="19" fill="#26a69a"/>
<rect x="995" y="416" width="7" height="10" fill="#26a69a"/>
<rect x="1007" y="414" width="1" height="9" fill="#26a69a"/>
<rect x="1004" y="415" width="7" height="2" fill="#26a69a"/>
<rect x="1016" y="386" width="1" height="30" fill="#26a69a"/>
<rect x="1013" y="392" width="7" height="24" fill="#26a69a"/>
<rect x="1024" y="392" width="1" height="18" fill="#ef5350"/>
<rect x="1021" y="392" width="7" height="14" fill="#ef5350"/>
<rect x="1033" y="396" width="1" height="21" fill="#ef5350"/>
<rect x="1030" y="405" width="7" height="1" fill="#ef5350"/>
<rect x="1042" y="370" width="1" height="36" fill="#26a69a"/>
<rect x="1039" y="379" width="7" height="27" fill="#26a69a"/>
<rect x="1051" y="366" width="1" height="21" fill="#26a69a"/>
<rect x="1048" y="366" width="7" height="14" fill="#26a69a"/>
<rect x="1059" y="363" width="1" height="66" fill="#ef5350"/>
<rect x="1056" y="366" width="7" height="51" fill="#ef5350"/>
<rect x="1068" y="395" width="1" height="25" fill="#26a69a"/>
<rect x="1065" y="400" width="7" height="17" fill="#26a69a"/>
<rect x="1077" y="396" width="1" height="11" fill="#26a69a"/>
<rect x="1074" y="399" width="7" height="2" fill="#26a69a"/>
<rect x="1086" y="389" width="1" height="15" fill="#26a69a"/>
<rect x="1083" y="393" width="7" height="7" fill="#26a69a"/>
<rect x="1094" y="393" width="1" height="11" fill="#ef5350"/>
<rect x="1091" y="393" width="7" height="8" fill="#ef5350"/>
<rect x="1103" y="391" width="1" height="10" fill="#26a69a"/>
<rect x="1100" y="394" width="7" height="7" fill="#26a69a"/>
<rect x="1112" y="367" width="1" height="30" fill="#26a69a"/>
<rect x="1109" y="383" width="7" height="13" fill="#26a69a"/>
<rect x="1121" y="383" width="1" height="13" fill="#ef5350"/>
<rect x="1118" y="383" width="7" height="7" fill="#ef5350"/>
<rect x="1129" y="384" width="1" height="7" fill="#26a69a"/>
<rect x="1126" y="388" width="7" height="2" fill="#26a69a"/>
<rect x="1138" y="388" width="1" height="13" fill="#ef5350"/>
<rect x="1135" y="388" width="7" height="13" fill="#ef5350"/>
<rect x="1147" y="400" width="1" height="17" fill="#ef5350"/>
<rect x="1144" y="401" width="7" height="2" fill="#ef5350"/>
<rect x="1156" y="397" width="1" height="8" fill="#26a69a"/>
<rect x="1153" y="399" width="7" height="4" fill="#26a69a"/>
<rect x="1164" y="388" width="1" height="12" fill="#26a69a"/>
<rect x="1161" y="392" width="7" height="7" fill="#26a69a"/>
<rect x="1173" y="365" width="1" height="30" fill="#26a69a"/>
<rect x="1170" y="368" width="7" height="25" fill="#26a69a"/>
<rect x="1182" y="359" width="1" height="15" fill="#ef5350"/>
<rect x="1179" y="368" width="7" height="4" fill="#ef5350"/>
<rect x="1190" y="356" width="1" height="19" fill="#26a69a"/>
<rect x="1187" y="360" width="7" height="12" fill="#26a69a"/>
<rect x="1199" y="355" width="1" height="10" fill="#26a69a"/>
<rect x="1196" y="358" width="7" height="3" fill="#26a69a"/>
<rect x="1208" y="356" width="1" height="34" fill="#ef5350"/>
<rect x="1205" y="359" width="7" height="20" fill="#ef5350"/>
<rect x="1217" y="368" width="1" height="11" fill="#26a69a"/>
<rect x="1214" y="370" width="7" height="9" fill="#26a69a"/>
<rect x="1225" y="359" width="1" height="17" fill="#26a69a"/>
<rect x="1222" y="360" width="7" height="11" fill="#26a69a"/>
<rect x="1234" y="359" width="1" height="17" fill="#ef5350"/>
<rect x="1231" y="360" width="7" height="8" fill="#ef5350"/>
<rect x="1243" y="366" width="1" height="11" fill="#ef5350"/>
<rect x="1240" y="367" width="7" height="5" fill="#ef5350"/>
<rect x="1252" y="370" width="1" height="8" fill="#26a69a"/>
<rect x="1249" y="370" width="7" height="2" fill="#26a69a"/>
<rect x="1260" y="369" width="1" height="14" fill="#ef5350"/>
<rect x="1257" y="370" width="7" height="7" fill="#ef5350"/>
<rect x="1269" y="374" width="1" height="8" fill="#ef5350"/>
<rect x="1266" y="376" width="7" height="3" fill="#ef5350"/>
<rect x="1278" y="374" width="1" height="7" fill="#26a69a"/>
<rect x="1275" y="376" width="7" height="3" fill="#26a69a"/>
<rect x="1287" y="373" width="1" height="11" fill="#ef5350"/>
<rect x="1284" y="375" width="7" height="1" fill="#ef5350"/>
<rect x="1295" y="364" width="1" height="14" fill="#26a69a"/>
<rect x="1292" y="366" width="7" height="10" fill="#26a69a"/>
<rect x="1304" y="355" width="1" height="12" fill="#26a69a"/>
<rect x="1301" y="358" width="7" height="9" fill="#26a69a"/>
<rect x="1313" y="336" width="1" height="23" fill="#26a69a"/>
<rect x="1310" y="342" width="7" height="17" fill="#26a69a"/>
<rect x="1322" y="342" width="1" height="15" fill="#ef5350"/>
<rect x="1319" y="342" width="7" height="9" fill="#ef5350"/>
<rect x="1330" y="348" width="1" height="9" fill="#ef5350"/>
<rect x="1327" y="348" width="7" height="2" fill="#ef5350"/>
<rect x="1339" y="349" width="1" height="16" fill="#ef5350"/>
<rect x="1336" y="349" width="7" height="11" fill="#ef5350"/>
<rect x="1348" y="351" width="1" height="10" fill="#26a69a"/>
<rect x="1345" y="351" width="7" height="9" fill="#26a69a"/>
<rect x="1357" y="343" width="1" height="14" fill="#26a69a"/>
<rect x="1354" y="347" width="7" height="5" fill="#26a69a"/>
<rect x="1365" y="341" width="1" height="8" fill="#26a69a"/>
<rect x="1362" y="345" width="7" height="3" fill="#26a69a"/>
<rect x="1374" y="339" width="1" height="7" fill="#26a69a"/>
<rect x="1371" y="343" width="7" height="3" fill="#26a69a"/>
<rect x="1383" y="339" width="1" height="5" fill="#26a69a"/>
<rect x="1380" y="340" width="7" height="4" fill="#26a69a"/>
<rect x="1391" y="340" width="1" height="7" fill="#ef5350"/>
<rect x="1388" y="340" width="7" height="4" fill="#ef5350"/>
<rect x="1400" y="335" width="1" height="9" fill="#26a69a"/>
<rect x="1397" y="337" width="7" height="7" fill="#26a69a"/>
<rect x="1409" y="324" width="1" height="22" fill="#ef5350"/>
<rect x="1406" y="337" width="7" height="2" fill="#ef5350"/>
<rect x="1418" y="333" width="1" height="9" fill="#26a69a"/>
<rect x="1415" y="337" width="7" height="2" fill="#26a69a"/>
<rect x="1426" y="335" width="1" height="7" fill="#ef5350"/>
<rect x="1423" y="337" width="7" height="2" fill="#ef5350"/>
<rect x="1435" y="332" width="1" height="9" fill="#26a69a"/>
<rect x="1432" y="333" width="7" height="5" fill="#26a69a"/>
<rect x="1444" y="326" width="1" height="8" fill="#26a69a"/>
<rect x="1441" y="327" width="7" height="7" fill="#26a69a"/>
<rect x="1453" y="325" width="1" height="9" fill="#26a69a"/>
<rect x="1450" y="327" width="7" height="2" fill="#26a69a"/>
<rect x="1461" y="323" width="1" height="6" fill="#26a69a"/>
<rect x="1458" y="325" width="7" height="4" fill="#26a69a"/>
<rect x="1470" y="316" width="1" height="13" fill="#26a69a"/>
<rect x="1467" y="319" width="7" height="7" fill="#26a69a"/>
<rect x="1479" y="291" width="1" height="30" fill="#26a69a"/>
<rect x="1476" y="293" width="7" height="27" fill="#26a69a"/>
<rect x="1488" y="262" width="1" height="35" fill="#26a69a"/>
<rect x="1485" y="273" width="7" height="22" fill="#26a69a"/>
<rect x="1496" y="230" width="1" height="45" fill="#26a69a"/>
<rect x="1493" y="235" width="7" height="40" fill="#26a69a"/>
<rect x="1505" y="232" width="1" height="27" fill="#ef5350"/>
<rect x="1502" y="234" width="7" height="16" fill="#ef5350"/>
<rect x="1514" y="248" width="1" height="26" fill="#ef5350"/>
<rect x="1511" y="249" width="7" height="3" fill="#ef5350"/>
<rect x="1523" y="241" width="1" height="12" fill="#26a69a"/>
<rect x="1520" y="246" width="7" height="6" fill="#26a69a"/>
<rect x="1531" y="219" width="1" height="32" fill="#26a69a"/>
<rect x="1528" y="223" width="7" height="24" fill="#26a69a"/>
<rect x="1540" y="193" width="1" height="31" fill="#26a69a"/>
<rect x="1537" y="193" width="7" height="31" fill="#26a69a"/>
<rect x="1549" y="190" width="1" height="20" fill="#ef5350"/>
<rect x="1546" y="193" width="7" height="6" fill="#ef5350"/>
<rect x="1557" y="197" width="1" height="26" fill="#ef5350"/>
<rect x="1554" y="197" width="7" height="8" fill="#ef5350"/>
<rect x="1566" y="200" width="1" height="14" fill="#26a69a"/>
<rect x="1563" y="200" width="7" height="5" fill="#26a69a"/>
<rect x="1575" y="175" width="1" height="28" fill="#26a69a"/>
<rect x="1572" y="180" width="7" height="21" fill="#26a69a"/>
<rect x="1584" y="158" width="1" height="26" fill="#26a69a"/>
<rect x="1581" y="170" width="7" height="11" fill="#26a69a"/>
<rect x="1592" y="154" width="1" height="24" fill="#26a69a"/>
<rect x="1589" y="156" width="7" height="16" fill="#26a69a"/>
<rect x="1601" y="96" width="1" height="64" fill="#26a69a"/>
<rect x="1598" y="110" width="7" height="47" fill="#26a69a"/>
<rect x="1610" y="98" width="1" height="157" fill="#ef5350"/>
<rect x="1607" y="110" width="7" height="66" fill="#ef5350"/>
<rect x="1619" y="161" width="1" height="104" fill="#ef5350"/>
<rect x="1616" y="175" width="7" height="75" fill="#ef5350"/>
<rect x="1627" y="239" width="1" height="70" fill="#26a69a"/>
<rect x="1624" y="240" width="7" height="9" fill="#26a69a"/>
<rect x="1636" y="216" width="1" height="42" fill="#26a69a"/>
<rect x="1633" y="238" width="7" height="3" fill="#26a69a"/>
<rect x="1645" y="235" width="1" height="27" fill="#ef5350"/>
<rect x="1642" y="238" width="7" height="10" fill="#ef5350"/>
<rect x="1654" y="236" width="1" height="16" fill="#26a69a"/>
<rect x="1651" y="241" width="7" height="7" fill="#26a69a"/>
<rect x="1662" y="232" width="1" height="123" fill="#ef5350"/>
<rect x="1659" y="241" width="7" height="95" fill="#ef5350"/>
<rect x="1671" y="293" width="1" height="65" fill="#26a69a"/>
<rect x="1668" y="312" width="7" height="24" fill="#26a69a"/>
<rect x="1680" y="294" width="1" height="44" fill="#26a69a"/>
<rect x="1677" y="298" width="7" height="15" fill="#26a69a"/>
<rect x="1689" y="289" width="1" height="22" fill="#ef5350"/>
<rect x="1686" y="298" width="7" height="7" fill="#ef5350"/>
<rect x="1697" y="300" width="1" height="12" fill="#26a69a"/>
<rect x="1694" y="301" width="7" height="3" fill="#26a69a"/>
<rect x="1706" y="291" width="1" height="13" fill="#26a69a"/>
<rect x="1703" y="294" width="7" height="8" fill="#26a69a"/>
<rect x="1715" y="238" width="1" height="59" fill="#26a69a"/>
<rect x="1712" y="240" width="7" height="55" fill="#26a69a"/>
<rect x="1723" y="233" width="1" height="46" fill="#ef5350"/>
<rect x="1720" y="240" width="7" height="14" fill="#ef5350"/>
<rect x="1732" y="237" width="1" height="22" fill="#26a69a"/>
<rect x="1729" y="244" width="7" height="10" fill="#26a69a"/>
<rect x="1741" y="243" width="1" height="15" fill="#ef5350"/>
<rect x="1738" y="243" width="7" height="5" fill="#ef5350"/>
<rect x="1750" y="225" width="1" height="23" fill="#26a69a"/>
<rect x="1747" y="229" width="7" height="19" fill="#26a69a"/>
<rect x="1758" y="218" width="1" height="36" fill="#26a69a"/>
<rect x="1755" y="228" width="7" height="2" fill="#26a69a"/>
<rect x="1767" y="225" width="1" height="11" fill="#ef5350"/>
<rect x="1764" y="228" width="7" height="8" fill="#ef5350"/>
<rect x="1776" y="228" width="1" height="29" fill="#ef5350"/>
<rect x="1773" y="235" width="7" height="21" fill="#ef5350"/>
<rect x="1785" y="242" width="1" height="14" fill="#26a69a"/>
<rect x="1782" y="249" width="7" height="7" fill="#26a69a"/>
<rect x="1793" y="231" width="1" height="19" fill="#26a69a"/>
<rect x="1790" y="234" width="7" height="16" fill="#26a69a"/>
<rect x="1802" y="227" width="1" height="12" fill="#26a69a"/>
<rect x="1799" y="232" width="7" height="3" fill="#26a69a"/>
<rect x="1811" y="230" width="1" height="5" fill="#26a69a"/>
<rect x="1808" y="231" width="7" height="2" fill="#26a69a"/>
<rect x="1820" y="231" width="1" height="6" fill="#ef5350"/>
<rect x="1817" y="231" width="7" height="6" fill="#ef5350"/>
<rect x="1828" y="228" width="1" height="9" fill="#26a69a"/>
<rect x="1825" y="231" width="7" height="5" fill="#26a69a"/>
<rect x="1837" y="197" width="1" height="35" fill="#26a69a"/>
<rect x="1834" y="201" width="7" height="31" fill="#26a69a"/>
<rect x="1846" y="186" width="1" height="16" fill="#26a69a"/>
<rect x="1843" y="188" width="7" height="14" fill="#26a69a"/>
<rect x="1855" y="171" width="1" height="24" fill="#26a69a"/>
<rect x="1852" y="172" width="7" height="17" fill="#26a69a"/>
<rect x="1863" y="164" width="1" height="22" fill="#26a69a"/>
<rect x="1860" y="168" width="7" height="5" fill="#26a69a"/>
<rect x="1872" y="151" width="1" height="25" fill="#26a69a"/>
<rect x="1869" y="158" width="7" height="12" fill="#26a69a"/>
<rect x="1881" y="157" width="1" height="18" fill="#ef5350"/>
<rect x="1878" y="157" width="7" height="15" fill="#ef5350"/>
<rect x="1890" y="163" width="1" height="10" fill="#26a69a"/>
<rect x="1887" y="163" width="7" height="10" fill="#26a69a"/>
</g>
<path d="M11 813.5H1888" stroke="#787b86" stroke-width="1.2" stroke-dasharray="5.2 5.8" stroke-dashoffset="0.2"/>
<path d="M11 963.5H1888" stroke="#787b86" stroke-width="1.2" stroke-dasharray="5.2 5.8" stroke-dashoffset="0.2"/>
<path d="M11 888.5H1888" stroke="#787b86" stroke-opacity="0.6" stroke-width="1.2" stroke-dasharray="5.2 5.8" stroke-dashoffset="0.2"/>
<polyline clip-path="url(#cr)" fill="none" stroke="#f5dc53" stroke-width="1.05" stroke-linejoin="round" points="11.5,872.5 20.5,873.3 28.5,874.2 37.5,875.3 46.5,876.4 55.5,877.5 63.5,877.5 72.5,877.5 81.5,879 90.5,880.3 98.5,881.7 107.5,880.8 116.5,880.8 125.5,880.8 133.5,880.5 142.5,880.3 151.5,881.7 159.5,881.5 168.5,881.3 177.5,881.7 186.5,883 194.5,883.8 203.5,884.7 212.5,885.5 221.5,886.3 229.5,891.7 238.5,897 247.5,905.8 256.5,911.3 264.5,915.8 273.5,919.2 282.5,921.7 291.5,924.2 299.5,926.3 308.5,928.7 317.5,930.8 325.5,932.7 334.5,935 343.5,937.2 352.5,937.5 360.5,937.2 369.5,933 378.5,931.3 387.5,930 395.5,928.7 404.5,928.3 413.5,928 422.5,927 430.5,925.8 439.5,925.3 448.5,925 457.5,924.5 465.5,924.2 474.5,922.8 483.5,921.3 491.5,920 500.5,919.2 509.5,918.3 518.5,917.2 526.5,913 535.5,908 544.5,903.7 553.5,898.3 561.5,892 570.5,884.2 579.5,877.8 588.5,870.3 596.5,866.3 605.5,862.5 614.5,859.2 623.5,855 631.5,851.3 640.5,848.3 649.5,849.2 658.5,850.5 666.5,852 675.5,855.8 684.5,861.7 692.5,868.3 701.5,873 710.5,877.5 719.5,879.2 727.5,879.7 736.5,880.5 745.5,881.3 754.5,881.7 762.5,881.2 771.5,879.5 780.5,879.3 789.5,878.7 797.5,877.8 806.5,875.3 815.5,872.5 824.5,869.7 832.5,867 841.5,865 850.5,863.7 858.5,858 867.5,853.8 876.5,850 885.5,846.2 893.5,843.8 902.5,840.5 911.5,837.8 920.5,834.5 928.5,833.7 937.5,833.3 946.5,834.2 955.5,830.2 963.5,828 972.5,826.3 981.5,827.7 990.5,825.5 998.5,822.5 1007.5,820 1016.5,815.8 1024.5,814.7 1033.5,812.5 1042.5,808.8 1051.5,802.5 1059.5,802.5 1068.5,802 1077.5,805 1086.5,806.3 1094.5,808.3 1103.5,810.5 1112.5,814.5 1121.5,819.2 1129.5,824.2 1138.5,831.3 1147.5,836.7 1156.5,841.7 1164.5,847.8 1173.5,851.3 1182.5,849.2 1190.5,846.7 1199.5,845 1208.5,846.2 1217.5,845.8 1225.5,845.5 1234.5,846.3 1243.5,847.2 1252.5,848.3 1260.5,848.5 1269.5,848.8 1278.5,849.1 1287.5,850 1295.5,851.7 1304.5,852 1313.5,852 1322.5,853 1330.5,851.7 1339.5,852 1348.5,852.8 1357.5,852.2 1365.5,850.5 1374.5,848.8 1383.5,846.2 1391.5,843.7 1400.5,840.8 1409.5,838.7 1418.5,837 1426.5,836.7 1435.5,837 1444.5,835.3 1453.5,833.7 1461.5,830 1470.5,826.2 1479.5,820.8 1488.5,814.7 1496.5,807.8 1505.5,804.2 1514.5,800 1523.5,796.3 1531.5,791.2 1540.5,785.5 1549.5,780.3 1557.5,776.7 1566.5,773.8 1575.5,770.3 1584.5,767 1592.5,763.7 1601.5,761.5 1610.5,767.8 1619.5,779.2 1627.5,787.5 1636.5,795 1645.5,803.3 1654.5,812.2 1662.5,825.5 1671.5,837.8 1680.5,848 1689.5,858 1697.5,868.3 1706.5,880 1715.5,889.2 1723.5,898.3 1732.5,901.2 1741.5,900 1750.5,898.3 1758.5,897 1767.5,895.5 1776.5,895.3 1785.5,891.3 1793.5,887.5 1802.5,884.5 1811.5,881.3 1820.5,878.3 1828.5,875.5 1837.5,873.3 1846.5,870 1855.5,866.3 1863.5,861.7 1872.5,857.8 1881.5,855.3 1888.3,852.5"/>
<polyline clip-path="url(#cr)" fill="none" stroke="#7e57c2" stroke-width="1.05" stroke-linejoin="round" points="11.5,871.3 20.5,896.3 28.5,880.3 37.5,890.3 46.5,889.7 55.5,889.2 63.5,878.7 72.5,885.5 81.5,882.5 90.5,877.8 98.5,879.7 107.5,865 116.5,872.7 125.5,871.3 133.5,878.7 142.5,882.5 151.5,898 159.5,890.8 168.5,884.3 177.5,892 186.5,897 194.5,893.8 203.5,894.3 212.5,892.2 221.5,892 229.5,933.3 238.5,951.7 247.5,992.5 256.5,959.7 264.5,943.7 273.5,946.2 282.5,925 291.5,921.3 299.5,922 308.5,930 317.5,920 325.5,924.6 334.5,923.3 343.5,926.7 352.5,941.3 360.5,944.7 369.5,928 378.5,932.5 387.5,931.3 395.5,928.3 404.5,918.3 413.5,918.7 422.5,907.8 430.5,912.5 439.5,917 448.5,920.3 457.5,912.5 465.5,931.3 474.5,918.3 483.5,921.7 491.5,910 500.5,920.3 509.5,919.2 518.5,916.7 526.5,860.8 535.5,845.5 544.5,846.3 553.5,838.3 561.5,825.8 570.5,812 579.5,823 588.5,824.5 596.5,866.7 605.5,863.3 614.5,865 623.5,862.8 631.5,867.8 640.5,871.5 649.5,876.2 658.5,865.5 666.5,863.7 675.5,889.2 684.5,905.3 692.5,905.3 701.5,885.3 710.5,892.2 719.5,893.3 727.5,868.8 736.5,876.7 745.5,878 754.5,872 762.5,863 771.5,848.3 780.5,867.2 789.5,854.5 797.5,876.7 806.5,872 815.5,865.8 824.5,851.2 832.5,854.2 841.5,860 850.5,849.5 858.5,797 867.5,816.3 876.5,818.3 885.5,810 893.5,820.3 902.5,813.7 911.5,823.7 920.5,828.7 928.5,863.3 937.5,860.5 946.5,860 955.5,803.3 963.5,825.3 972.5,825.8 981.5,819.2 990.5,786.7 998.5,777.5 1007.5,776.2 1016.5,757.5 1024.5,798 1033.5,798.7 1042.5,775 1051.5,766.3 1059.5,865.3 1068.5,849.5 1077.5,848.7 1086.5,843.3 1094.5,853 1103.5,846.7 1112.5,835.5 1121.5,846.3 1129.5,844.5 1138.5,866.7 1147.5,869.7 1156.5,865 1164.5,856.2 1173.5,826.3 1182.5,833.8 1190.5,821.3 1199.5,820 1208.5,859.7 1217.5,849.2 1225.5,837.5 1234.5,851.7 1243.5,858.7 1252.5,857.5 1260.5,868.7 1269.5,873 1278.5,870 1287.5,868 1295.5,850 1304.5,839.2 1313.5,819.5 1322.5,837.8 1330.5,836.3 1339.5,859.2 1348.5,848 1357.5,841.7 1365.5,838 1374.5,834.5 1383.5,831.2 1391.5,839.5 1400.5,828.3 1409.5,832.5 1418.5,830 1426.5,833.3 1435.5,824.5 1444.5,814.2 1453.5,813.8 1461.5,810.5 1470.5,799.2 1479.5,767.5 1488.5,753 1496.5,736.7 1505.5,776.7 1514.5,780.5 1523.5,777.2 1531.5,763.3 1540.5,750.3 1549.5,760.8 1557.5,776.3 1566.5,773.7 1575.5,763 1584.5,758.7 1592.5,752.7 1601.5,738.5 1610.5,836.7 1619.5,894.7 1627.5,889.2 1636.5,887.7 1645.5,894.2 1654.5,889.6 1662.5,939.2 1671.5,924.2 1680.5,915.5 1689.5,918.3 1697.5,916.3 1706.5,910 1715.5,874.6 1723.5,883.3 1732.5,877.2 1741.5,880 1750.5,867.5 1758.5,866.7 1767.5,873 1776.5,889.7 1785.5,885 1793.5,872.8 1802.5,871.2 1811.5,870.8 1820.5,875.5 1828.5,870 1837.5,843.7 1846.5,833.3 1855.5,822.2 1863.5,818.3 1872.5,811.7 1881.5,832.5 1888.3,828.3"/>
<g stroke="#dddfe4" stroke-width="1" shape-rendering="crispEdges">
<path d="M11 715.5H1957"/>
<path d="M11 1060.5H1957"/>
<path d="M1888.5 28.5V1087"/>
</g>
<g clip-path="url(#cax)">
<text x="1898.1" y="46.8" font-size="12" fill="#131722" textLength="41.4" lengthAdjust="spacingAndGlyphs">1240.00</text>
<text x="1898.1" y="89.2" font-size="12" fill="#131722" textLength="41.4" lengthAdjust="spacingAndGlyphs">1160.00</text>
<text x="1898.1" y="133.9" font-size="12" fill="#131722" textLength="41.4" lengthAdjust="spacingAndGlyphs">1080.00</text>
<text x="1898.1" y="182.7" font-size="12" fill="#131722" textLength="41.4" lengthAdjust="spacingAndGlyphs">1000.00</text>
<text x="1898.1" y="235.1" font-size="12" fill="#131722" textLength="35.6" lengthAdjust="spacingAndGlyphs">920.00</text>
<text x="1898.1" y="270.4" font-size="12" fill="#131722" textLength="35.6" lengthAdjust="spacingAndGlyphs">870.00</text>
<text x="1898.1" y="315.1" font-size="12" fill="#131722" textLength="35.6" lengthAdjust="spacingAndGlyphs">810.00</text>
<text x="1898.1" y="347" font-size="12" fill="#131722" textLength="35.6" lengthAdjust="spacingAndGlyphs">770.00</text>
<text x="1898.1" y="380.2" font-size="12" fill="#131722" textLength="35.6" lengthAdjust="spacingAndGlyphs">730.00</text>
<text x="1898.1" y="415.9" font-size="12" fill="#131722" textLength="35.6" lengthAdjust="spacingAndGlyphs">690.00</text>
<text x="1898.1" y="453.2" font-size="12" fill="#131722" textLength="35.6" lengthAdjust="spacingAndGlyphs">650.00</text>
<text x="1898.1" y="493" font-size="12" fill="#131722" textLength="35.6" lengthAdjust="spacingAndGlyphs">610.00</text>
<text x="1898.1" y="525" font-size="12" fill="#131722" textLength="35.6" lengthAdjust="spacingAndGlyphs">580.00</text>
<text x="1898.1" y="558" font-size="12" fill="#131722" textLength="35.6" lengthAdjust="spacingAndGlyphs">550.00</text>
<text x="1898.1" y="593.7" font-size="12" fill="#131722" textLength="35.6" lengthAdjust="spacingAndGlyphs">520.00</text>
<text x="1898.1" y="624.5" font-size="12" fill="#131722" textLength="35.6" lengthAdjust="spacingAndGlyphs">495.00</text>
<text x="1898.1" y="655.9" font-size="12" fill="#131722" textLength="35.6" lengthAdjust="spacingAndGlyphs">471.00</text>
<text x="1898.1" y="685.9" font-size="12" fill="#131722" textLength="35.6" lengthAdjust="spacingAndGlyphs">449.00</text>
<text x="1898.1" y="715.8" font-size="12" fill="#131722" textLength="35.6" lengthAdjust="spacingAndGlyphs">428.00</text>
</g>
<text x="1898.1" y="742.7" font-size="12" fill="#131722" textLength="29.4" lengthAdjust="spacingAndGlyphs">90.00</text>
<text x="1898.1" y="780.7" font-size="12" fill="#131722" textLength="29.4" lengthAdjust="spacingAndGlyphs">80.00</text>
<text x="1898.1" y="817.7" font-size="12" fill="#131722" textLength="29.4" lengthAdjust="spacingAndGlyphs">70.00</text>
<text x="1898.1" y="855.7" font-size="12" fill="#131722" textLength="29.4" lengthAdjust="spacingAndGlyphs">60.00</text>
<text x="1898.1" y="892.7" font-size="12" fill="#131722" textLength="29.4" lengthAdjust="spacingAndGlyphs">50.00</text>
<text x="1898.1" y="930.6" font-size="12" fill="#131722" textLength="29.4" lengthAdjust="spacingAndGlyphs">40.00</text>
<text x="1898.1" y="967.7" font-size="12" fill="#131722" textLength="29.4" lengthAdjust="spacingAndGlyphs">30.00</text>
<text x="1898.1" y="1004.7" font-size="12" fill="#131722" textLength="29.4" lengthAdjust="spacingAndGlyphs">20.00</text>
<text x="1898.1" y="1042.7" font-size="12" fill="#131722" textLength="29.4" lengthAdjust="spacingAndGlyphs">10.00</text>
<rect x="1909.5" y="33.5" width="27" height="18" rx="4" fill="#fff" stroke="#d5d8e0" stroke-width="1"/>
<text x="1913" y="46.9" font-size="12" fill="#131722" textLength="20" lengthAdjust="spacingAndGlyphs">USD</text>
<path d="M1888.3 155.3H1945a2 2 0 0 1 2 2V170a2 2 0 0 1 -2 2H1888.3Z" fill="#26a69a"/>
<text x="1898.5" y="167.7" font-size="12" fill="#fff" textLength="41.6" lengthAdjust="spacingAndGlyphs" font-weight="bold">1023.99</text>
<text x="54.9" y="1078.3" font-size="11.3" fill="#131722" text-anchor="middle">11</text>
<text x="141.9" y="1078.3" font-size="11.3" fill="#131722" text-anchor="middle">21</text>
<text x="237.9" y="1078.3" font-size="11.3" fill="#131722" text-anchor="middle">Ağu</text>
<text x="359.9" y="1078.3" font-size="11.3" fill="#131722" text-anchor="middle">15</text>
<text x="508.9" y="1078.3" font-size="11.3" fill="#131722" text-anchor="middle">Eyl</text>
<text x="604.9" y="1078.3" font-size="11.3" fill="#131722" text-anchor="middle">12</text>
<text x="770.9" y="1078.3" font-size="11.3" fill="#131722" text-anchor="middle">Eki</text>
<text x="910.9" y="1078.3" font-size="11.3" fill="#131722" text-anchor="middle">17</text>
<text x="1041.9" y="1078.3" font-size="11.3" fill="#131722" text-anchor="middle">Kas</text>
<text x="1155.9" y="1078.3" font-size="11.3" fill="#131722" text-anchor="middle">14</text>
<text x="1303.9" y="1078.3" font-size="11.3" fill="#131722" text-anchor="middle">Ara</text>
<text x="1399.9" y="1078.3" font-size="11.3" fill="#131722" text-anchor="middle">12</text>
<text x="1487.9" y="1078.3" font-size="11.3" fill="#131722" text-anchor="middle">22</text>
<text x="1575.2" y="1078.3" font-size="12" fill="#131722" text-anchor="middle" textLength="27" lengthAdjust="spacingAndGlyphs" font-weight="bold">2017</text>
<text x="1705.9" y="1078.3" font-size="11.3" fill="#131722" text-anchor="middle">16</text>
<text x="1845.9" y="1078.3" font-size="11.3" fill="#131722" text-anchor="middle">Şub</text>
<text y="18.6" font-size="12" fill="#131722"><tspan x="10.1" textLength="77.9" lengthAdjust="spacingAndGlyphs">serkangultekin</tspan> <tspan x="92.6" textLength="93.8" lengthAdjust="spacingAndGlyphs">TradingView.com,</tspan> <tspan x="191" textLength="18.2" lengthAdjust="spacingAndGlyphs">Mar</tspan> <tspan x="215.3" textLength="13.4" lengthAdjust="spacingAndGlyphs">13,</tspan> <tspan x="235" textLength="24" lengthAdjust="spacingAndGlyphs">2022</tspan> <tspan x="264.3" textLength="27.3" lengthAdjust="spacingAndGlyphs">18:12</tspan> <tspan x="296.6" textLength="33.4" lengthAdjust="spacingAndGlyphs">UTC+2</tspan> <tspan x="335.5" textLength="46.4" lengthAdjust="spacingAndGlyphs">tarihinde</tspan> <tspan x="387" textLength="54.3" lengthAdjust="spacingAndGlyphs">yayınlandı</tspan></text>
<text y="45.6" font-size="12" xml:space="preserve"><tspan x="18.3" textLength="36.8" lengthAdjust="spacingAndGlyphs" fill="#131722">Bitcoin</tspan> <tspan x="60.3" textLength="3.9" lengthAdjust="spacingAndGlyphs" fill="#131722">/</tspan> <tspan x="68.7" textLength="29.8" lengthAdjust="spacingAndGlyphs" fill="#131722">Dolar,</tspan> <tspan x="104.2" textLength="16.8" lengthAdjust="spacingAndGlyphs" fill="#131722">1G,</tspan> <tspan x="126.3" textLength="49.8" lengthAdjust="spacingAndGlyphs" fill="#131722">BITSTAMP</tspan> <tspan x="184" textLength="7.6" lengthAdjust="spacingAndGlyphs" fill="#131722">A</tspan> <tspan x="192" textLength="47" lengthAdjust="spacingAndGlyphs" fill="#26a69a">38798.68</tspan> <tspan x="247.2" textLength="7" lengthAdjust="spacingAndGlyphs" fill="#131722">Y</tspan> <tspan x="254.7" textLength="47.3" lengthAdjust="spacingAndGlyphs" fill="#26a69a">39312.50</tspan> <tspan x="309.5" textLength="7.4" lengthAdjust="spacingAndGlyphs" fill="#131722">D</tspan> <tspan x="317.3" textLength="47.7" lengthAdjust="spacingAndGlyphs" fill="#26a69a">38400.00</tspan> <tspan x="372.5" textLength="7" lengthAdjust="spacingAndGlyphs" fill="#131722">K</tspan> <tspan x="380" textLength="47.3" lengthAdjust="spacingAndGlyphs" fill="#26a69a">38976.25</tspan> <tspan x="435" textLength="41.7" lengthAdjust="spacingAndGlyphs" fill="#26a69a">+154.23</tspan> <tspan x="481.3" textLength="44.5" lengthAdjust="spacingAndGlyphs" fill="#26a69a">(+0.40%)</tspan></text>
<text y="62.5" font-size="12" xml:space="preserve"><tspan x="18.5" textLength="32.4" lengthAdjust="spacingAndGlyphs" fill="#131722">Hacim</tspan> <tspan x="58.7" textLength="18.8" lengthAdjust="spacingAndGlyphs" fill="#2e9e3a">380</tspan></text>
<text y="735" font-size="12" xml:space="preserve"><tspan x="18.4" textLength="14.5" lengthAdjust="spacingAndGlyphs" fill="#131722">RSI</tspan> <tspan x="39" textLength="20.5" lengthAdjust="spacingAndGlyphs" fill="#131722">(14,</tspan> <tspan x="62.6" textLength="30.5" lengthAdjust="spacingAndGlyphs" fill="#131722">close,</tspan> <tspan x="97.7" textLength="25.1" lengthAdjust="spacingAndGlyphs" fill="#131722">SMA,</tspan> <tspan x="128.3" textLength="14.3" lengthAdjust="spacingAndGlyphs" fill="#131722">14,</tspan> <tspan x="148" textLength="9.9" lengthAdjust="spacingAndGlyphs" fill="#131722">2)</tspan> <tspan x="165.8" textLength="29.4" lengthAdjust="spacingAndGlyphs" fill="#7e57c2">46.68</tspan> <tspan x="202.8" textLength="29" lengthAdjust="spacingAndGlyphs" fill="#fde03a">49.90</tspan> <tspan x="240.2" textLength="18.6" lengthAdjust="spacingAndGlyphs" fill="#131722">u/d</tspan> <tspan x="266.9" textLength="18.7" lengthAdjust="spacingAndGlyphs" fill="#131722">u/d</tspan></text>
<g fill="#131722"><path d="M10 1100.3H18V1110H14V1103.9H10Z"/><circle cx="21.3" cy="1102.2" r="1.75"/><path d="M24.4 1100.3H29.4L26.1 1110H21.2Z"/></g>
<text x="33" y="1109.9" font-size="12.4" fill="#2a2e39" textLength="70.3" lengthAdjust="spacingAndGlyphs">TradingView</text>
</svg>
</body></html>
